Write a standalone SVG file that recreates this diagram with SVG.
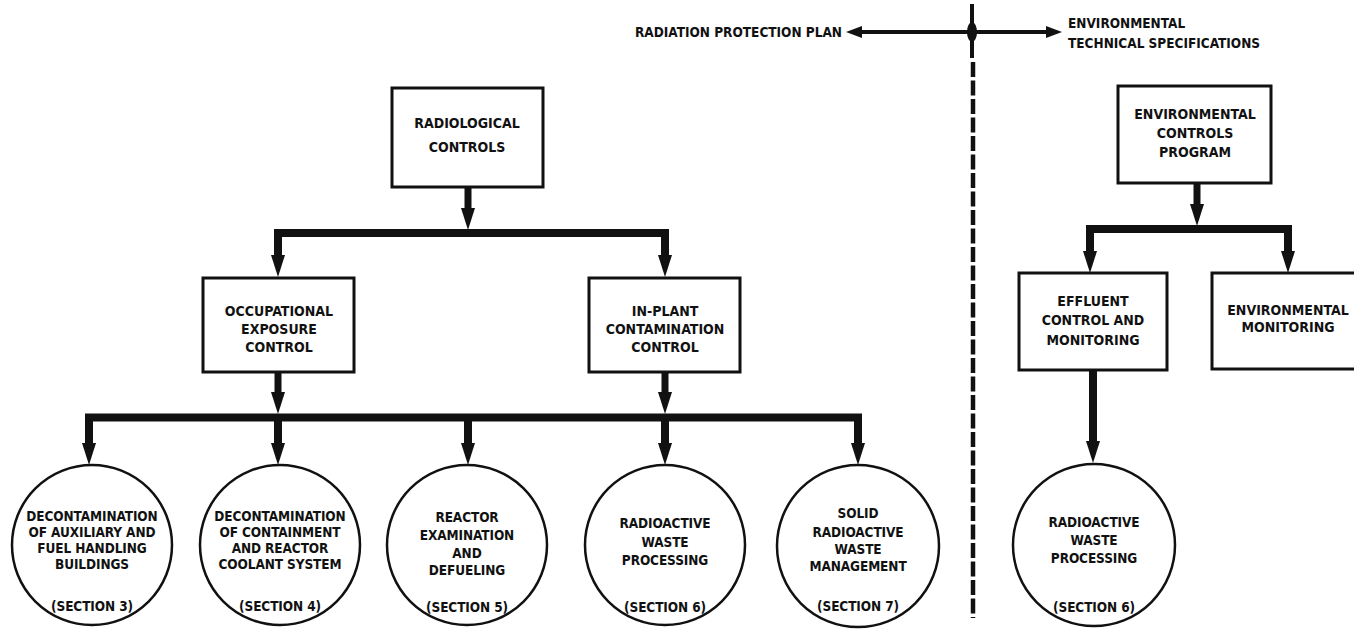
<svg xmlns="http://www.w3.org/2000/svg" xmlns:xlink="http://www.w3.org/1999/xlink" width="1354" height="629" viewBox="0 0 1354 629">
<style>
.t{font-family:"DejaVu Sans Condensed","Liberation Sans Narrow","Liberation Sans",sans-serif;font-weight:bold;font-size:14px;text-anchor:middle;fill:#111;letter-spacing:0px}
.c{font-size:13.5px;letter-spacing:-0.1px}
.hd{font-family:"DejaVu Sans Condensed","Liberation Sans Narrow","Liberation Sans",sans-serif;font-weight:bold;font-size:13.5px;fill:#111;letter-spacing:0px}
.box{fill:#fff;stroke:#111;stroke-width:3}
.circ{fill:#fff;stroke:#111;stroke-width:2.5}
.bar{fill:none;stroke:#111;stroke-width:8;stroke-linejoin:miter;stroke-linecap:butt}
.sh{stroke:#111;stroke-width:7;fill:none}
.ah{fill:#111}
</style>
<defs>
<path id="h" d="M-7,-22 L7,-22 L0,0 Z"/>
</defs>
<rect x="0" y="0" width="1354" height="629" fill="#fff"/>

<g id="header">
<text class="hd" x="635" y="37">RADIATION PROTECTION PLAN</text>
<text class="hd" x="1068" y="28">ENVIRONMENTAL</text>
<text class="hd" x="1068" y="48">TECHNICAL SPECIFICATIONS</text>
<line x1="856" y1="32" x2="1052" y2="32" stroke="#111" stroke-width="4"/>
<polygon points="846,32 862,26 862,38" fill="#111"/>
<polygon points="1062,32 1046,26 1046,38" fill="#111"/>
<line x1="972" y1="4" x2="972" y2="58" stroke="#111" stroke-width="4"/>
<ellipse cx="972" cy="32" rx="5" ry="10" fill="#111"/>
<line x1="973" y1="62" x2="973" y2="618" stroke="#111" stroke-width="4.5" stroke-dasharray="15 3.5"/>
</g>

<g id="connectors">
<line class="sh" x1="468" y1="187" x2="468" y2="215"/>
<use xlink:href="#h" href="#h" x="468" y="230" class="ah"/>
<path class="bar" d="M278,262 V233 H665 V262"/>
<use xlink:href="#h" href="#h" x="278" y="277" class="ah"/>
<use xlink:href="#h" href="#h" x="665" y="277" class="ah"/>

<line class="sh" x1="278" y1="372" x2="278" y2="400"/>
<use xlink:href="#h" href="#h" x="278" y="414" class="ah"/>
<line class="sh" x1="665" y1="372" x2="665" y2="400"/>
<use xlink:href="#h" href="#h" x="665" y="414" class="ah"/>

<path class="bar" d="M89,450 V417.5 H858 V450"/>
<line class="bar" x1="278" y1="417" x2="278" y2="450"/>
<line class="bar" x1="468" y1="417" x2="468" y2="450"/>
<line class="bar" x1="665" y1="417" x2="665" y2="450"/>
<use xlink:href="#h" href="#h" x="89" y="465" class="ah"/>
<use xlink:href="#h" href="#h" x="278" y="465" class="ah"/>
<use xlink:href="#h" href="#h" x="468" y="465" class="ah"/>
<use xlink:href="#h" href="#h" x="665" y="465" class="ah"/>
<use xlink:href="#h" href="#h" x="858" y="465" class="ah"/>

<line class="sh" x1="1197" y1="183" x2="1197" y2="210"/>
<use xlink:href="#h" href="#h" x="1197" y="226" class="ah"/>
<path class="bar" d="M1090,258 V229 H1288 V258"/>
<use xlink:href="#h" href="#h" x="1090" y="273" class="ah"/>
<use xlink:href="#h" href="#h" x="1288" y="273" class="ah"/>

<line class="bar" x1="1093" y1="370" x2="1093" y2="445"/>
<use xlink:href="#h" href="#h" x="1093" y="463" class="ah"/>
</g>

<g id="radiological-controls">
<rect class="box" x="392" y="88" width="151" height="99"/>
<text class="t" x="467" y="128">RADIOLOGICAL</text>
<text class="t" x="467" y="152">CONTROLS</text>
</g>

<g id="occupational-exposure-control">
<rect class="box" x="203" y="278" width="151" height="94"/>
<text class="t" x="279" y="316">OCCUPATIONAL</text>
<text class="t" x="279" y="334">EXPOSURE</text>
<text class="t" x="279" y="352">CONTROL</text>
</g>

<g id="in-plant-contamination-control">
<rect class="box" x="589" y="278" width="151" height="94"/>
<text class="t" x="665" y="316">IN-PLANT</text>
<text class="t" x="665" y="334">CONTAMINATION</text>
<text class="t" x="665" y="352">CONTROL</text>
</g>

<g id="section-3">
<circle class="circ" cx="92" cy="545" r="80"/>
<text class="t c" x="92" y="521">DECONTAMINATION</text>
<text class="t c" x="92" y="537">OF AUXILIARY AND</text>
<text class="t c" x="92" y="553">FUEL HANDLING</text>
<text class="t c" x="92" y="569">BUILDINGS</text>
<text class="t c" x="92" y="611">(SECTION 3)</text>
</g>

<g id="section-4">
<circle class="circ" cx="280" cy="545" r="80"/>
<text class="t c" x="280" y="521">DECONTAMINATION</text>
<text class="t c" x="280" y="537">OF CONTAINMENT</text>
<text class="t c" x="280" y="553">AND REACTOR</text>
<text class="t c" x="280" y="569">COOLANT SYSTEM</text>
<text class="t c" x="280" y="611">(SECTION 4)</text>
</g>

<g id="section-5">
<circle class="circ" cx="467" cy="545" r="80"/>
<text class="t c" x="467" y="522">REACTOR</text>
<text class="t c" x="467" y="540">EXAMINATION</text>
<text class="t c" x="467" y="558">AND</text>
<text class="t c" x="467" y="575">DEFUELING</text>
<text class="t c" x="467" y="612">(SECTION 5)</text>
</g>

<g id="section-6">
<circle class="circ" cx="665" cy="545" r="80"/>
<text class="t c" x="665" y="528">RADIOACTIVE</text>
<text class="t c" x="665" y="547">WASTE</text>
<text class="t c" x="665" y="565">PROCESSING</text>
<text class="t c" x="665" y="612">(SECTION 6)</text>
</g>

<g id="section-7">
<circle class="circ" cx="858" cy="546" r="81"/>
<text class="t c" x="858" y="518">SOLID</text>
<text class="t c" x="858" y="537">RADIOACTIVE</text>
<text class="t c" x="858" y="554">WASTE</text>
<text class="t c" x="858" y="571">MANAGEMENT</text>
<text class="t c" x="858" y="611">(SECTION 7)</text>
</g>

<g id="environmental-controls-program">
<rect class="box" x="1118" y="86" width="153" height="97"/>
<text class="t" x="1195" y="119">ENVIRONMENTAL</text>
<text class="t" x="1195" y="138">CONTROLS</text>
<text class="t" x="1195" y="157">PROGRAM</text>
</g>

<g id="effluent-control-and-monitoring">
<rect class="box" x="1019" y="273" width="148" height="97"/>
<text class="t" x="1093" y="306">EFFLUENT</text>
<text class="t" x="1093" y="325">CONTROL AND</text>
<text class="t" x="1093" y="345">MONITORING</text>
</g>

<g id="environmental-monitoring">
<rect class="box" x="1212" y="273" width="150" height="96"/>
<text class="t" x="1288" y="315">ENVIRONMENTAL</text>
<text class="t" x="1288" y="332">MONITORING</text>
</g>

<g id="section-6-env">
<circle class="circ" cx="1094" cy="545" r="81"/>
<text class="t c" x="1094" y="527">RADIOACTIVE</text>
<text class="t c" x="1094" y="545">WASTE</text>
<text class="t c" x="1094" y="563">PROCESSING</text>
<text class="t c" x="1094" y="612">(SECTION 6)</text>
</g>
</svg>
